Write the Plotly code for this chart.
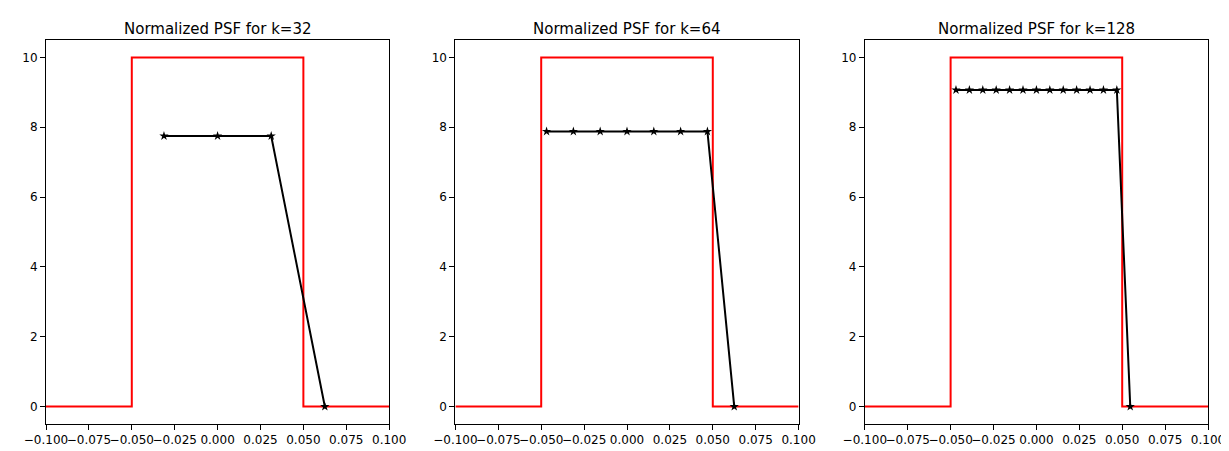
import plotly.graph_objects as go
from plotly.subplots import make_subplots

ks = [32, 64, 128]
rect_x = [-0.1, -0.05, -0.05, 0.05, 0.05, 0.1]
rect_y = [0, 0, 10, 10, 0, 0]

psf_x = {
    32: [-0.03125, 0.0, 0.03125, 0.0625],
    64: [-0.046875, -0.03125, -0.015625, 0.0, 0.015625, 0.03125, 0.046875, 0.0625],
    128: [i * 0.0078125 for i in range(-6, 8)],
}
psf_y = {
    32: [7.75, 7.75, 7.75, 0],
    64: [7.88] * 7 + [0],
    128: [9.07] * 13 + [0],
}

tickvals = [-0.1, -0.075, -0.05, -0.025, 0.0, 0.025, 0.05, 0.075, 0.1]
ticktext = ["\u22120.100", "\u22120.075", "\u22120.050", "\u22120.025", "0.000", "0.025", "0.050", "0.075", "0.100"]

fig = make_subplots(rows=1, cols=3, horizontal_spacing=0.057,
                    subplot_titles=[f"Normalized PSF for k={k}" for k in ks])
for i, k in enumerate(ks, start=1):
    fig.add_trace(go.Scatter(x=rect_x, y=rect_y, mode="lines",
                             line=dict(color="red", width=2)), row=1, col=i)
    fig.add_trace(go.Scatter(x=psf_x[k], y=psf_y[k], mode="lines+markers",
                             line=dict(color="black", width=2),
                             marker=dict(symbol="star", size=7, color="black")), row=1, col=i)
    fig.update_xaxes(range=[-0.1, 0.1], tickvals=tickvals, ticktext=ticktext, row=1, col=i)
    fig.update_yaxes(range=[-0.5, 10.5], tickvals=[0, 2, 4, 6, 8, 10], row=1, col=i)

fig.update_xaxes(showgrid=False, zeroline=False, showline=True, mirror=True, linecolor="black",
                 ticks="outside", tickcolor="black", tickangle=0, automargin=False,
                 tickfont=dict(size=12, color="black"))
fig.update_yaxes(showgrid=False, zeroline=False, showline=True, mirror=True, linecolor="black",
                 ticks="outside", tickcolor="black", automargin=False,
                 tickfont=dict(size=12, color="black"))
fig.update_annotations(font=dict(size=15, color="black"))
fig.update_layout(width=1229, height=451, showlegend=False, plot_bgcolor="white",
                  paper_bgcolor="white", font=dict(family="DejaVu Sans"),
                  margin=dict(l=38, r=29, t=32, b=35))
fig.write_html("out.html")
